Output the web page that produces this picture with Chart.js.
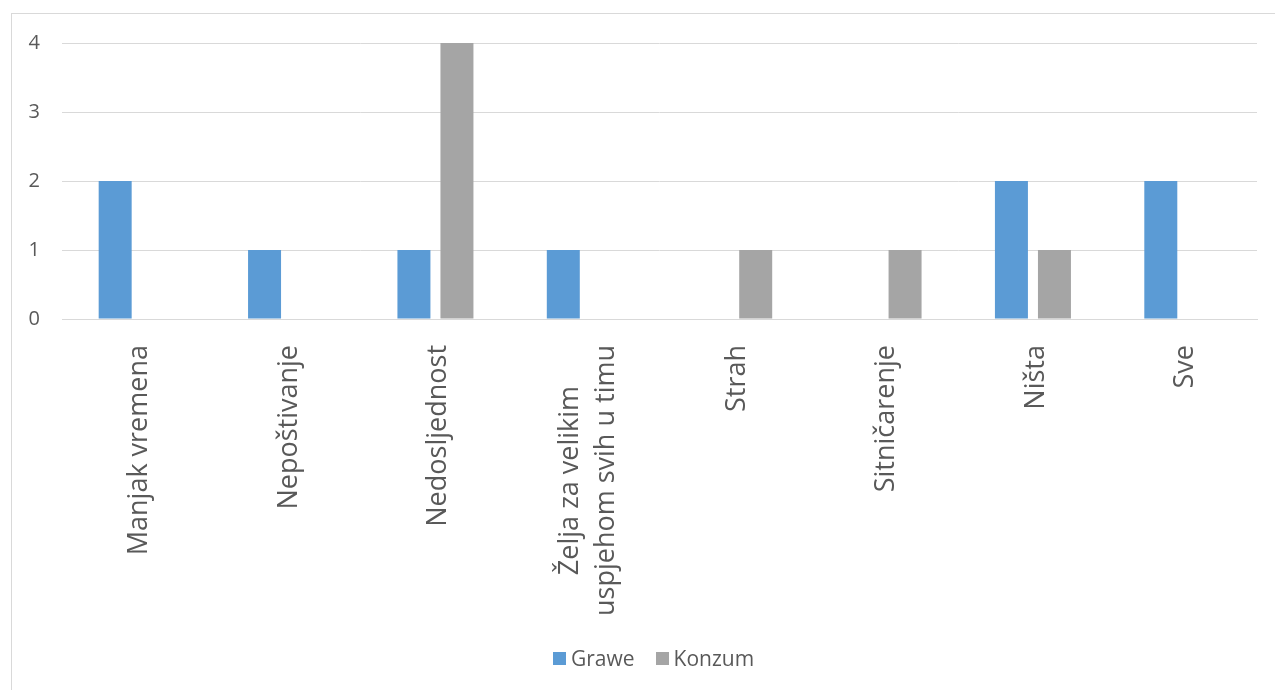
<!DOCTYPE html>
<html>
<head>
<meta charset="utf-8">
<script src="https://cdn.jsdelivr.net/npm/chart.js@4/dist/chart.umd.min.js"></script>
<style>
  html, body { margin: 0; padding: 0; background: #fff; overflow: hidden; }
  #frame { position: absolute; left: 11px; top: 13px; width: 1300px; height: 700px; border: 1px solid #d9d9d9; box-sizing: border-box; }
  #wrap { position: absolute; left: 0; top: 0; width: 1275px; height: 690px; }
  #legend { position: absolute; left: 553px; top: 644px; display: flex; align-items: center; font-family: "Open Sans", "Noto Sans", sans-serif; font-size: 21px; color: #595959; white-space: nowrap; }
  #legend .item { display: flex; align-items: center; margin-right: 21px; }
  #legend .box { width: 13px; height: 13px; margin-right: 5px; }
</style>
</head>
<body>
<div id="frame"></div>
<div id="wrap"><canvas id="c" width="1275" height="690"></canvas></div>
<div id="legend"></div>
<script>
const categories = [
  "Manjak vremena",
  "Nepoštivanje",
  "Nedosljednost",
  ["Želja za velikim", "uspjehom svih u timu"],
  "Strah",
  "Sitničarenje",
  "Ništa",
  "Sve"
];
const seriesNames = ["Grawe", "Konzum"];
const graweValues = [2, 1, 1, 1, 0, 0, 2, 2];
const konzumValues = [0, 0, 4, 0, 1, 1, 1, 0];
const yTicks = [0, 1, 2, 3, 4];

const textColor = '#595959';
const fontFamily = '"Open Sans", "Noto Sans", sans-serif';

const xLabelPlugin = {
  id: 'xLabelPlugin',
  afterDraw(chart) {
    const xs = chart.scales.x;
    const ctx = chart.ctx;
    const top = xs.top + 26;
    const lh = 36;
    ctx.save();
    ctx.font = '27px ' + fontFamily;
    ctx.fillStyle = textColor;
    ctx.textBaseline = 'middle';
    ctx.textAlign = 'center';
    categories.forEach((lab, i) => {
      const lines = Array.isArray(lab) ? lab : [lab];
      const cx = xs.getPixelForTick(i) + 3;
      const W = Math.max(...lines.map(l => ctx.measureText(l).width));
      const n = lines.length;
      lines.forEach((line, k) => {
        const x = cx + (k - (n - 1) / 2) * lh;
        ctx.save();
        ctx.translate(x, top);
        ctx.rotate(-Math.PI / 2);
        ctx.fillText(line, -W / 2, 0);
        ctx.restore();
      });
    });
    ctx.restore();
  }
};

const chart = new Chart(document.getElementById('c'), {
  type: 'bar',
  data: {
    labels: categories,
    datasets: [
      { label: seriesNames[0], data: graweValues, backgroundColor: '#5B9BD5', categoryPercentage: 0.576, barPercentage: 0.767 },
      { label: seriesNames[1], data: konzumValues, backgroundColor: '#A5A5A5', categoryPercentage: 0.576, barPercentage: 0.767 }
    ]
  },
  plugins: [xLabelPlugin],
  options: {
    responsive: false,
    animation: false,
    devicePixelRatio: 1,
    layout: { padding: { left: 0, right: 18, top: 43, bottom: 0 } },
    plugins: {
      legend: { display: false },
      tooltip: { enabled: false }
    },
    scales: {
      x: {
        grid: { display: false },
        border: { display: true, color: '#d9d9d9' },
        ticks: { display: false },
        afterFit(scale) { scale.height = 371; }
      },
      y: {
        min: 0,
        max: 4,
        afterBuildTicks(scale) { scale.ticks = yTicks.map(v => ({ value: v })); },
        grid: { color: '#d9d9d9', lineWidth: 1, drawTicks: false },
        border: { display: false },
        ticks: { color: textColor, font: { family: fontFamily, size: 20 }, padding: 22 },
        afterFit(scale) { scale.width = 62; }
      }
    }
  }
});

const legendEl = document.getElementById('legend');
chart.data.datasets.forEach(ds => {
  const item = document.createElement('div');
  item.className = 'item';
  const box = document.createElement('span');
  box.className = 'box';
  box.style.background = ds.backgroundColor;
  const txt = document.createElement('span');
  txt.textContent = ds.label;
  item.appendChild(box);
  item.appendChild(txt);
  legendEl.appendChild(item);
});
</script>
</body>
</html>
